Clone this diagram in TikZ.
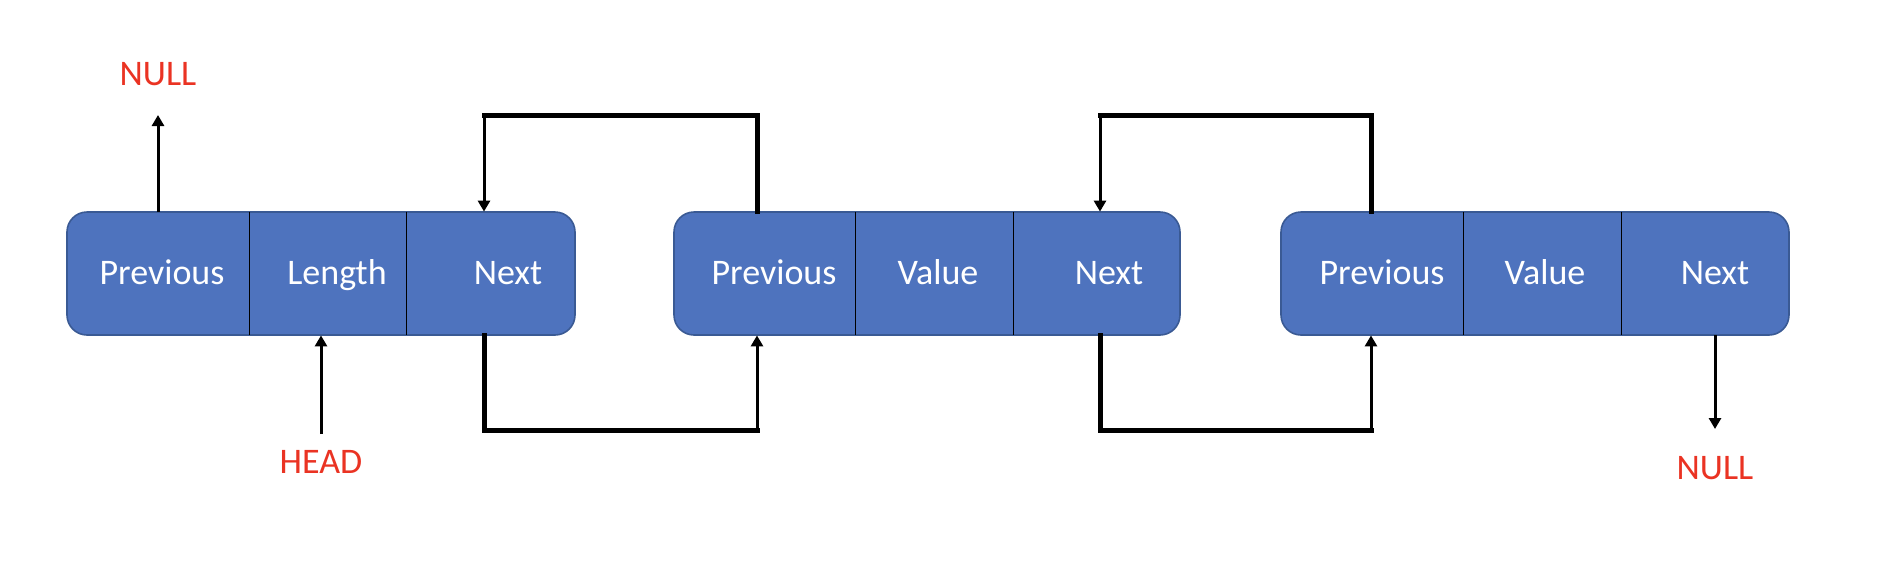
\documentclass[tikz,border=0pt]{standalone}
\usepackage{fontspec}
\setmainfont{Carlito}
\usetikzlibrary{arrows.meta,fit}
\definecolor{boxblue}{HTML}{4E73BE}
\definecolor{boxedge}{HTML}{3A5A94}
\definecolor{nullred}{HTML}{EA3323}
\begin{document}
\begin{tikzpicture}[x=0.5pt,y=-0.5pt,
  listbox/.style={draw=boxedge, line width=0.8pt, fill=boxblue, rounded corners=10pt, inner sep=0pt},
  cell/.style={inner sep=0pt},
  divider/.style={black, line width=0.8pt},
  celltext/.style={text=white, anchor=base, font=\fontsize{18}{20}\selectfont},
  redtext/.style={text=nullred, anchor=base, font=\fontsize{18}{20}\selectfont},
  link/.style={line width=2.5pt, line cap=rect},
  arrowlink/.style={line width=1.5pt, -{Triangle[length=5.5pt,width=6pt]}},
]
\useasboundingbox (0,0) rectangle (1902,564);

% boxes
\node[listbox, fit={(67,212) (575,335)}] (box1) {};
\node[listbox, fit={(674,212) (1180,335)}] (box2) {};
\node[listbox, fit={(1281,212) (1789,335)}] (box3) {};

% cells
\node[cell, fit={(67,212) (249,335)}] (b1p) {};
\node[cell, fit={(249,212) (406,335)}] (b1l) {};
\node[cell, fit={(406,212) (575,335)}] (b1n) {};
\node[cell, fit={(674,212) (855,335)}] (b2p) {};
\node[cell, fit={(855,212) (1013,335)}] (b2v) {};
\node[cell, fit={(1013,212) (1180,335)}] (b2n) {};
\node[cell, fit={(1281,212) (1463,335)}] (b3p) {};
\node[cell, fit={(1463,212) (1621,335)}] (b3v) {};
\node[cell, fit={(1621,212) (1789,335)}] (b3n) {};

% dividers
\draw[divider] (b1p.north east) -- (b1p.south east);
\draw[divider] (b1l.north east) -- (b1l.south east);
\draw[divider] (b2p.north east) -- (b2p.south east);
\draw[divider] (b2v.north east) -- (b2v.south east);
\draw[divider] (b3p.north east) -- (b3p.south east);
\draw[divider] (b3v.north east) -- (b3v.south east);

% cell texts
\node[celltext] (t1p) at (162,284) {Previous};
\node[celltext] (t1l) at (337,284) {Length};
\node[celltext] (t1n) at (508,284) {Next};
\node[celltext] (t2p) at (774,284) {Previous};
\node[celltext] (t2v) at (938,284) {Value};
\node[celltext] (t2n) at (1109,284) {Next};
\node[celltext] (t3p) at (1382,284) {Previous};
\node[celltext] (t3v) at (1545,284) {Value};
\node[celltext] (t3n) at (1715,284) {Next};

% red labels
\node[redtext] (null1) at (158,85) {NULL};
\node[redtext] (head) at (321,473) {HEAD};
\node[redtext] (null2) at (1715,479) {NULL};

% free ends
\coordinate (n1tip) at (158,115);
\coordinate (headtail) at (321,434);
\coordinate (n2tip) at (1715,429);
\coordinate (u1a) at (757,115);
\coordinate (u1b) at (484,115);
\coordinate (d1a) at (484,430);
\coordinate (d1b) at (757,430);
\coordinate (u2a) at (1371,115);
\coordinate (u2b) at (1100,115);
\coordinate (d2a) at (1100,430);
\coordinate (d2b) at (1371,430);

% NULL / HEAD arrows
\draw[arrowlink] (b1p.north) -- (n1tip);
\draw[arrowlink] (headtail) -- (headtail |- b1l.south);
\draw[arrowlink] (b3n.south -| n2tip) -- (n2tip);

% links between box1 and box2
\draw[link] (b2p.north -| u1a) -- (u1a) -- (u1b);
\draw[arrowlink] (u1b) -- (b1n.north -| u1b);
\draw[link] (b1n.south -| d1a) -- (d1a) -- (d1b);
\draw[arrowlink] (d1b) -- (b2p.south -| d1b);

% links between box2 and box3
\draw[link] (b3p.north -| u2a) -- (u2a) -- (u2b);
\draw[arrowlink] (u2b) -- (b2n.north -| u2b);
\draw[link] (b2n.south -| d2a) -- (d2a) -- (d2b);
\draw[arrowlink] (d2b) -- (b3p.south -| d2b);
\end{tikzpicture}
\end{document}
